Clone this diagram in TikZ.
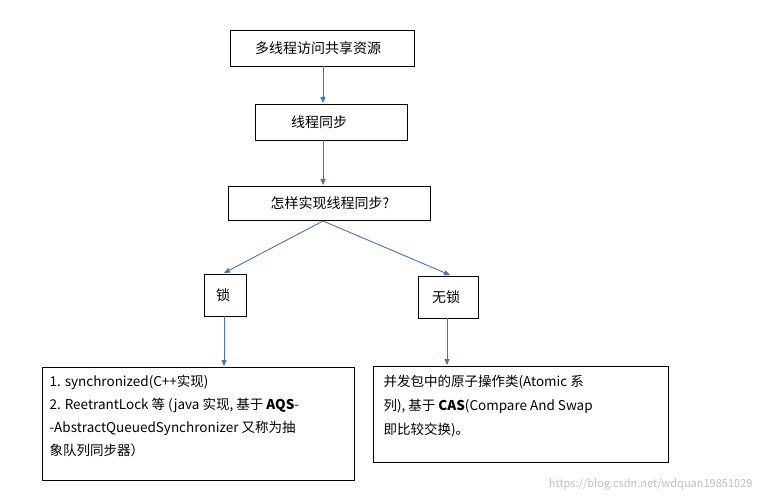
\documentclass[tikz,border=0pt]{standalone}
\usepackage{fontspec}
\setmainfont{Noto Sans CJK SC}
\usetikzlibrary{arrows.meta}
\begin{document}
\begin{tikzpicture}[x=1pt,y=-1pt,
  box/.style={draw=black,line width=0.8pt,anchor=north west,inner sep=0pt},
  arr/.style={draw={rgb,255:red,68;green,114;blue,196},line width=0.9pt,-{Triangle[length=6pt,width=5pt]}},
  lbl/.style={font=\fontsize{14}{16}\selectfont}]
\useasboundingbox (0,0) rectangle (761,500);
\fill[white] (0,0) rectangle (761,500);
\draw[box] (230,30) rectangle (414,66);
\node[lbl] (a) at (318,48) {多线程访问共享资源};
\draw[box] (255,104) rectangle (407,140);
\node[lbl] (b) at (319,122) {线程同步};
\draw[box] (228,186) rectangle (430,220);
\node[lbl] (c) at (330,203) {怎样实现线程同步?};
\draw[box] (204,274) rectangle (246,316);
\node[lbl] (d) at (223,295) {锁};
\draw[box] (418,276) rectangle (478,318);
\node[lbl] (e) at (446,297) {无锁};
\draw[box] (42,367) rectangle (354,480);
\node[lbl,anchor=north west,align=left,font=\fontsize{13.5}{23}\selectfont] (f) at (46,372) {1. synchronized(C++实现)\\2. ReetrantLock 等 (java 实现, 基于 \textbf{AQS}-\\-AbstractQueuedSynchronizer 又称为抽\\象队列同步器）};
\draw[box] (373,366) rectangle (668,462);
\node[lbl,anchor=north west,align=left,font=\fontsize{13.5}{24}\selectfont] (g) at (380,372) {并发包中的原子操作类(Atomic 系\\列), 基于 \textbf{CAS}(Compare And Swap\\即比较交换)。};
\coordinate (a1) at (323,66); \coordinate (b0) at (323,103);
\coordinate (b1) at (323,140); \coordinate (c0) at (323,185);
\coordinate (c1) at (323,221); \coordinate (d0) at (224,273); \coordinate (e0) at (450,275);
\coordinate (d1) at (224,316); \coordinate (f0) at (224,366);
\coordinate (e1) at (447,318); \coordinate (g0) at (447,365);
\draw[arr] (a1) -- (b0);
\draw[arr] (b1) -- (c0);
\draw[arr] (c1) -- (d0);
\draw[arr] (c1) -- (e0);
\draw[arr] (d1) -- (f0);
\draw[arr] (e1) -- (g0);
\node[font=\fontsize{11}{13}\selectfont,text=black!25,anchor=east] (w) at (756,484) {https://blog.csdn.net/wdquan19851029};
\end{tikzpicture}
\end{document}
